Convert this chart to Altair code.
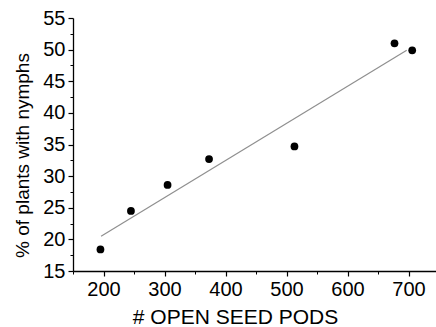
import altair as alt
import pandas as pd

pods = [195, 245, 305, 373, 513, 677, 706]
pct = [18.4, 24.5, 28.6, 32.7, 34.7, 51.0, 49.9]
x_major = [200, 300, 400, 500, 600, 700]
x_minor = [150, 250, 350, 450, 550, 650, 750]
y_major = [15, 20, 25, 30, 35, 40, 45, 50, 55]
y_minor = [17.5, 22.5, 27.5, 32.5, 37.5, 42.5, 47.5, 52.5]

df = pd.DataFrame({"pods": pods, "pct": pct})

FONT = "Liberation Sans"
xs = alt.Scale(domain=[150, 745], nice=False, zero=False)
ys = alt.Scale(domain=[15, 55], nice=False, zero=False)

base = alt.Chart(df)

points = base.mark_point(filled=True, color="black", size=60, opacity=1).encode(
    x=alt.X("pods:Q", scale=xs, axis=alt.Axis(
        values=x_major, title="# OPEN SEED PODS", orient="bottom",
        grid=False, domainColor="black", domainWidth=1.3, tickColor="black",
        tickSize=5, tickWidth=1.2, labelFont=FONT, labelFontSize=20,
        labelColor="black", labelPadding=3, titleFont=FONT, titleFontSize=21,
        titleFontWeight="normal", titleColor="black", titlePadding=7,
        titleX=162)),
    y=alt.Y("pct:Q", scale=ys, axis=alt.Axis(
        values=y_major, title="% of plants with nymphs", orient="left",
        grid=False, domainColor="black", domainWidth=1.3, tickColor="black",
        tickSize=5, tickWidth=1.2, labelFont=FONT, labelFontSize=20,
        labelColor="black", labelPadding=3, titleFont=FONT, titleFontSize=19,
        titleFontWeight="normal", titleColor="black", titlePadding=10,
        titleY=137)),
)

line = base.transform_regression("pods", "pct", extent=[196, 697]).mark_line(
    color="#8f8f8f", strokeWidth=1.2
).encode(
    x=alt.X("pods:Q", scale=xs, axis=alt.Axis(
        values=x_minor, orient="bottom", title=None, labels=False, domain=False,
        grid=False, tickColor="black", tickSize=3, tickWidth=1)),
    y=alt.Y("pct:Q", scale=ys, axis=alt.Axis(
        values=y_minor, orient="left", title=None, labels=False, domain=False,
        grid=False, tickColor="black", tickSize=3, tickWidth=1)),
)

chart = alt.layer(line, points).resolve_axis(x="independent", y="independent").properties(
    width=363, height=253,
    autosize=alt.AutoSizeParams(type="none"),
    padding={"left": 73, "top": 18, "right": 0, "bottom": 56},
).configure_view(stroke=None)

chart.save("out.html", embed_options={"renderer": "svg", "actions": False})
